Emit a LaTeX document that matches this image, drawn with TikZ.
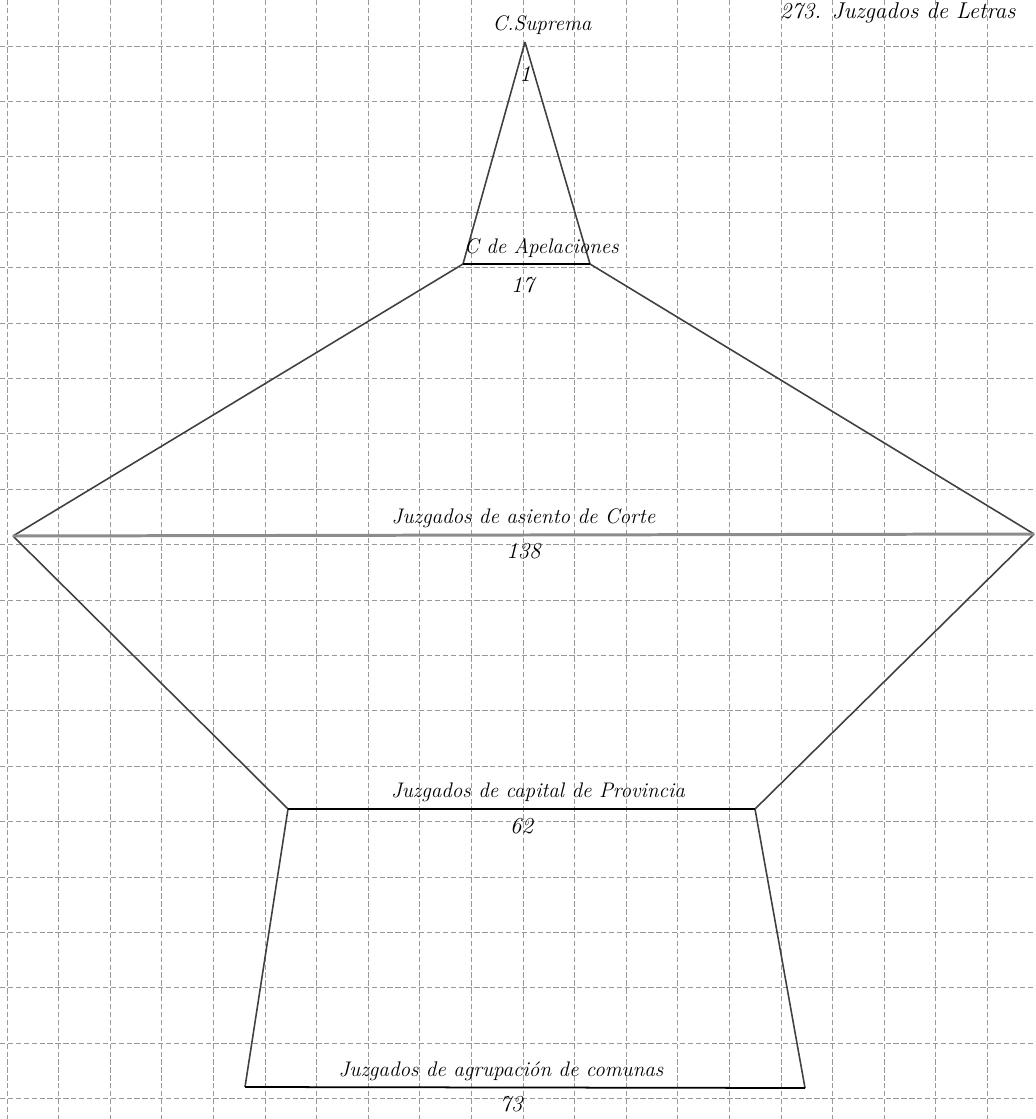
\documentclass[tikz,border=0pt]{standalone}
\usepackage{tikz}
\usetikzlibrary{positioning, calc}

\begin{document}
\begin{tikzpicture}[
        x=0.02cm, y=-0.02cm,
        % Define styles
        grid line/.style={black!40, line width=0.4pt, dash pattern=on 3pt off 1.5pt},
        side/.style={black!75, line width=0.9pt},
        level/.style={black, line width=1pt},
        level gray/.style={black!45, line width=1.7pt},
        level label/.style={font=\fontsize{12}{14}\selectfont\itshape, inner sep=1pt},
        count/.style={font=\fontsize{13}{15}\selectfont\itshape, inner sep=1pt},
        title/.style={font=\fontsize{13}{15}\selectfont\itshape, inner sep=1pt, anchor=west}
    ]

    \useasboundingbox (0,0) rectangle (1035,1119);

    % --- Graph paper ---
    \foreach \i in {0,...,19}
        \draw[grid line] ({7+51.6*\i},0) -- ({7+51.6*\i},1119);
    \foreach \j in {0,...,19}
        \draw[grid line] (0,{46+55.4*\j}) -- (1035,{46+55.4*\j});

    % --- Corners ---
    \coordinate (apex) at (525,42);
    \coordinate (ca-l) at (463,264);
    \coordinate (ca-r) at (590,264);
    \coordinate (ac-l) at (13,536);
    \coordinate (ac-r) at (1034,534);
    \coordinate (cp-l) at (288,809);
    \coordinate (cp-r) at (755,809);
    \coordinate (ag-l) at (245,1087);
    \coordinate (ag-r) at (805,1088);

    \coordinate (ca-m) at ($(ca-l)!0.5!(ca-r)$);
    \coordinate (ac-m) at ($(ac-l)!0.5!(ac-r)$);
    \coordinate (cp-m) at ($(cp-l)!0.5!(cp-r)$);
    \coordinate (ag-m) at ($(ag-l)!0.5!(ag-r)$);

    % --- Outline ---
    \draw[side] (apex) -- (ca-l);
    \draw[side] (apex) -- (ca-r);
    \draw[side] (ca-l) -- (ac-l);
    \draw[side] (ca-r) -- (ac-r);
    \draw[side] (ac-l) -- (cp-l);
    \draw[side] (ac-r) -- (cp-r);
    \draw[side] (cp-l) -- (ag-l);
    \draw[side] (cp-r) -- (ag-r);

    % Levels
    \draw[level] (ca-l) -- (ca-r);
    \draw[level gray] (ac-l) -- (ac-r);
    \draw[level] (cp-l) -- (cp-r);
    \draw[level] (ag-l) -- (ag-r);

    % --- Labels ---
    \node[level label, above=0.1cm of apex, xshift=0.34cm] (suprema) {C.Suprema};
    \node[count, below=0.45cm of apex] (n-suprema) {1};

    \node[level label, above=0.08cm of ca-m, xshift=0.3cm] (apelaciones) {C de Apelaciones};
    \node[count, below=0.22cm of ca-m, xshift=-0.08cm] (n-apelaciones) {17};

    \node[level label, above=0.1cm of ac-m] (asiento) {Juzgados de asiento de Corte};
    \node[count, below=0.12cm of ac-m] (n-asiento) {138};

    \node[level label, above=0.1cm of cp-m, xshift=0.33cm] (capital) {Juzgados de capital de Provincia};
    \node[count, below=0.14cm of cp-m] (n-capital) {62};

    \node[level label, above=0.1cm of ag-m, xshift=-0.48cm] (agrupacion) {Juzgados de agrupación de comunas};
    \node[count, below=0.14cm of ag-m, xshift=-0.28cm] (n-agrupacion) {73};

    % Total
    \node[title] (total) at (778,13) {273. Juzgados de Letras};

\end{tikzpicture}
\end{document}
